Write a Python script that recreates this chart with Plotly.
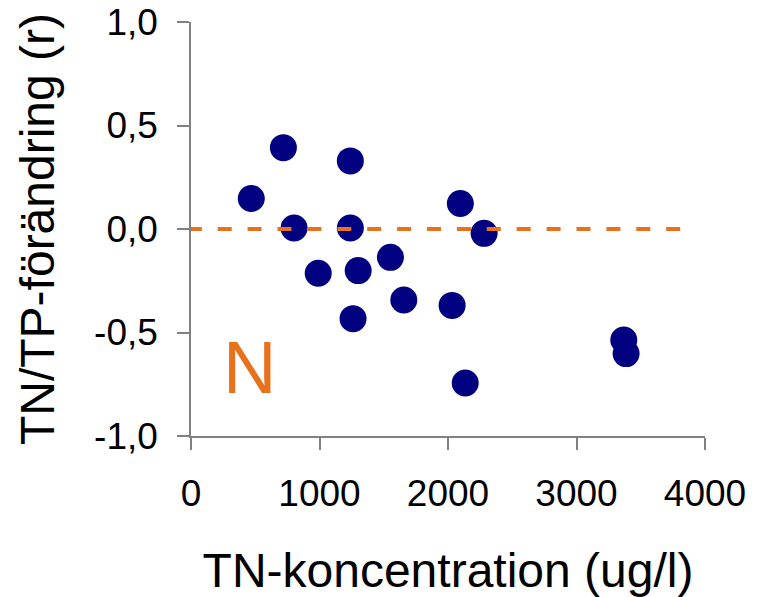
import plotly.graph_objects as go

# Data
tn_conc = [469, 719, 802, 990, 1240, 1240, 1301, 1261, 1552, 1656, 2032, 2096, 2281, 2134, 3368, 3386]
tn_tp_change = [0.147, 0.393, 0.005, -0.214, 0.329, 0.005, -0.201, -0.433, -0.137, -0.343, -0.369, 0.123, -0.021, -0.744, -0.536, -0.602]

ref_x = [-25, 3810]
ref_y = [0, 0]

x_ticks = [0, 1000, 2000, 3000, 4000]
x_tick_labels = ["0", "1000", "2000", "3000", "4000"]
y_ticks = [-1.0, -0.5, 0.0, 0.5, 1.0]
y_tick_labels = ["-1,0", "-0,5", "0,0", "0,5", "1,0"]

orange = "#E8711C"
navy = "#000080"
font_family = "Liberation Sans, Arial, sans-serif"

fig = go.Figure()
fig.add_trace(go.Scatter(
    x=tn_conc, y=tn_tp_change, mode="markers",
    marker=dict(color=navy, size=27, line=dict(width=0)),
    showlegend=False, cliponaxis=False,
))
fig.add_trace(go.Scatter(
    x=ref_x, y=ref_y, mode="lines",
    line=dict(color=orange, width=4, dash="14px,15.9px"),
    showlegend=False, cliponaxis=False,
))

fig.add_annotation(
    x=453, y=-0.668, xref="x", yref="y", text="N", showarrow=False,
    font=dict(family=font_family, size=74, color=orange),
)

axis_common = dict(
    showgrid=False, zeroline=False, showline=True, automargin=False,
    linecolor="#808080", linewidth=1.5,
    ticks="outside", ticklen=12, tickwidth=1.5, tickcolor="#808080",
    tickfont=dict(family=font_family, size=37, color="black"),
    ticklabeloverflow="allow",
    title_font=dict(family=font_family, color="black"),
)

fig.update_xaxes(
    range=[0, 4000], tickvals=x_ticks, ticktext=x_tick_labels,
    ticklabelstandoff=12,
    title=dict(text="TN-koncentration (ug/l)", font=dict(size=48), standoff=46),
    **axis_common,
)
fig.update_yaxes(
    range=[-1, 1], tickvals=y_ticks, ticktext=y_tick_labels,
    ticklabelstandoff=12,
    title=dict(text="TN/TP-förändring (r)", font=dict(size=48), standoff=24),
    **axis_common,
)

# page body has an 8px default margin, so the figure is shifted by 8px
fig.update_layout(
    width=756, height=589,
    margin=dict(l=183, r=59, t=14, b=161),
    plot_bgcolor="white", paper_bgcolor="white",
    font=dict(family=font_family, color="black"),
)

fig.write_html("out.html")
